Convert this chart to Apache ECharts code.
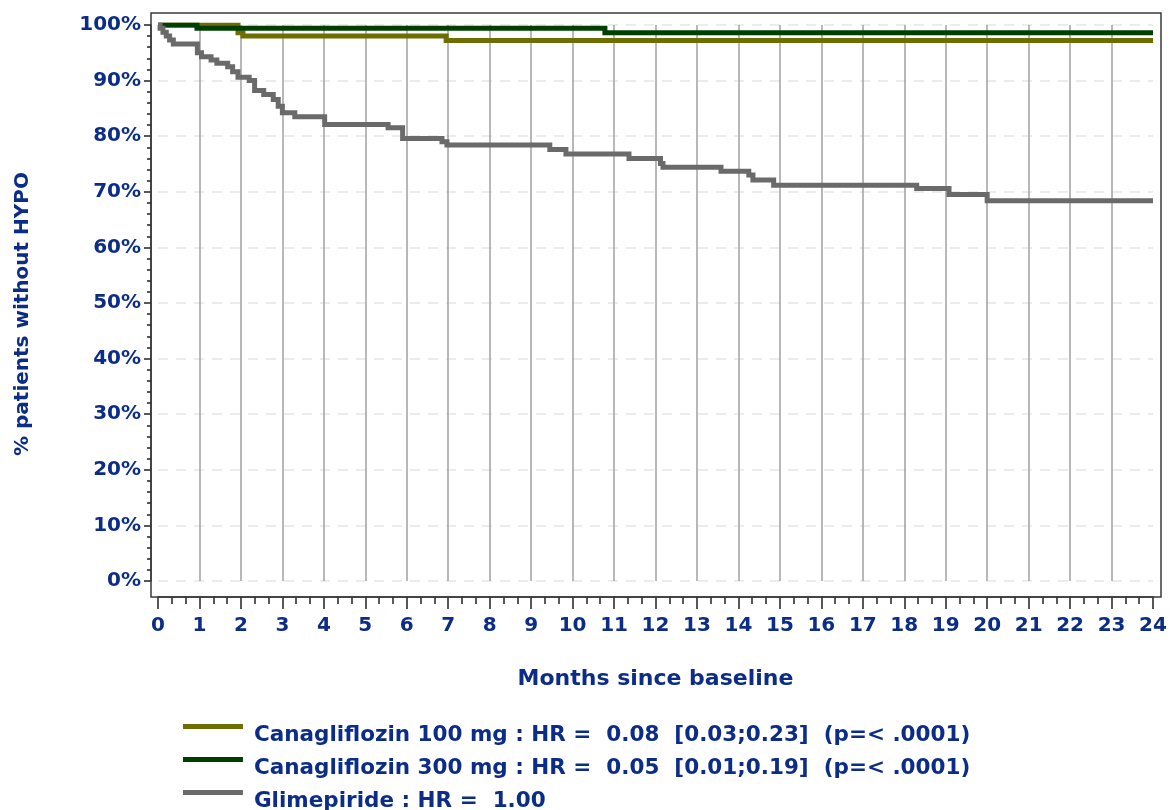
<!DOCTYPE html>
<html>
<head>
<meta charset="utf-8">
<script src="https://cdn.jsdelivr.net/npm/echarts@6/dist/echarts.min.js"></script>
<style>
  html, body { margin: 0; padding: 0; background: #ffffff; }
  #main { width: 1170px; height: 810px; }
</style>
</head>
<body>
<div id="main"></div>
<script>
// Kaplan-Meier estimates: [months since baseline, % patients without HYPO]
const cana100 = [[0, 100], [1.93, 98.6], [2.05, 98.0], [6.95, 97.2], [24, 97.2]];
const cana300 = [[0, 100], [0.94, 99.4], [10.78, 98.6], [24, 98.6]];
const glimepiride = [
  [0, 100], [0.05, 99.4], [0.12, 98.7], [0.2, 98.0], [0.28, 97.3], [0.37, 96.6],
  [0.95, 95.0], [1.05, 94.3], [1.28, 93.7], [1.42, 93.1], [1.68, 92.5], [1.8, 91.6],
  [1.93, 90.6], [2.2, 90.0], [2.33, 88.2], [2.55, 87.5], [2.78, 86.6], [2.9, 85.4],
  [3.0, 84.2], [3.3, 83.5], [4.02, 82.1], [5.55, 81.5], [5.9, 79.6], [6.85, 79.0],
  [6.97, 78.4], [9.45, 77.6], [9.84, 76.8], [11.36, 76.0], [12.12, 75.1], [12.18, 74.4],
  [13.58, 73.7], [14.25, 73.0], [14.35, 72.1], [14.85, 71.2], [18.3, 70.6], [19.08, 69.5],
  [20.0, 68.4], [24, 68.4]
];

const seriesNames = [
  'Canagliflozin 100 mg : HR =  0.08  [0.03;0.23]  (p=< .0001)',
  'Canagliflozin 300 mg : HR =  0.05  [0.01;0.19]  (p=< .0001)',
  'Glimepiride : HR =  1.00'
];
const seriesColors = ['#6e6e00', '#003f00', '#6a6a6a'];

const xTitle = 'Months since baseline';
const yTitle = '% patients without HYPO';

const NAVY = '#0b2d87';
const FONT = '"DejaVu Sans", Verdana, sans-serif';
const FRAME_COLOR = '#3a3a3a';

// plotting area and the frame drawn round it
const GRID = { left: 158, right: 17, top: 25, bottom: 229 };
const FRAME_PAD = { left: 7, right: 8, top: 12, bottom: 16 };
const W = 1170, H = 810;

const chart = echarts.init(document.getElementById('main'), null, { renderer: 'canvas' });

const lineSeries = [cana100, cana300, glimepiride].map((d, i) => ({
  name: seriesNames[i],
  type: 'line',
  step: 'end',
  data: d,
  showSymbol: false,
  symbol: 'none',
  color: seriesColors[i],
  lineStyle: { width: 5, color: seriesColors[i], cap: 'butt', join: 'miter' },
  animation: false,
  z: 3 + i
}));

// legend key: a short bar sitting at the top of a taller box, so the text
// hangs slightly below the bar
const legendIcon = 'path://M0 0H60V5H0Z M0 23H60V23.02H0Z';

chart.setOption({
  backgroundColor: '#ffffff',
  animation: false,
  grid: { left: GRID.left, right: GRID.right, top: GRID.top, bottom: GRID.bottom },
  graphic: [{
    type: 'rect',
    z: 10,
    silent: true,
    shape: {
      x: GRID.left - FRAME_PAD.left,
      y: GRID.top - FRAME_PAD.top,
      width: W - GRID.left - GRID.right + FRAME_PAD.left + FRAME_PAD.right,
      height: H - GRID.top - GRID.bottom + FRAME_PAD.top + FRAME_PAD.bottom
    },
    style: { fill: 'none', stroke: FRAME_COLOR, lineWidth: 1.5 }
  }],
  xAxis: {
    type: 'value',
    min: 0,
    max: 24,
    interval: 1,
    offset: FRAME_PAD.bottom,
    axisLine: { show: true, onZero: false, lineStyle: { color: FRAME_COLOR, width: 1.5 } },
    axisTick: { show: true, length: 12, lineStyle: { color: '#222', width: 1.5 } },
    minorTick: { show: true, splitNumber: 3, length: 7, lineStyle: { color: '#222', width: 1.5 } },
    axisLabel: { margin: 19, fontSize: 20, fontWeight: 'bold', color: NAVY, fontFamily: FONT },
    splitLine: { show: true, showMinLine: false, showMaxLine: false, lineStyle: { color: '#a0a0a0', width: 1.5 } },
    minorSplitLine: { show: false },
    name: xTitle,
    nameLocation: 'middle',
    nameGap: 71,
    nameTextStyle: { fontSize: 22, fontWeight: 'bold', color: NAVY, fontFamily: FONT }
  },
  yAxis: {
    type: 'value',
    min: 0,
    max: 100,
    interval: 10,
    offset: FRAME_PAD.left,
    axisLine: { show: true, onZero: false, lineStyle: { color: FRAME_COLOR, width: 1.5 } },
    axisTick: { show: true, length: 7, lineStyle: { color: '#222', width: 1.5 } },
    minorTick: { show: true, splitNumber: 5, length: 4, lineStyle: { color: '#222', width: 1.5 } },
    axisLabel: { margin: 10, formatter: '{value}%', fontSize: 20, fontWeight: 'bold', color: NAVY, fontFamily: FONT },
    splitLine: { show: true, lineStyle: { color: '#e6e6e6', width: 1.5, type: [10, 8] } },
    name: yTitle,
    nameLocation: 'middle',
    nameRotate: 90,
    nameGap: 118,
    nameTextStyle: { fontSize: 20, fontWeight: 'bold', color: NAVY, fontFamily: FONT, padding: [0, 22, 0, 0] }
  },
  legend: {
    orient: 'vertical',
    left: 183,
    top: 724,
    width: 900,
    height: 140,
    padding: 0,
    itemGap: 10,
    itemWidth: 60,
    itemHeight: 23,
    icon: legendIcon,
    data: seriesNames,
    selectedMode: false,
    textStyle: { fontSize: 21.5, fontWeight: 'bold', color: NAVY, fontFamily: FONT, padding: [0, 0, 0, 6] }
  },
  series: lineSeries
});
</script>
</body>
</html>
